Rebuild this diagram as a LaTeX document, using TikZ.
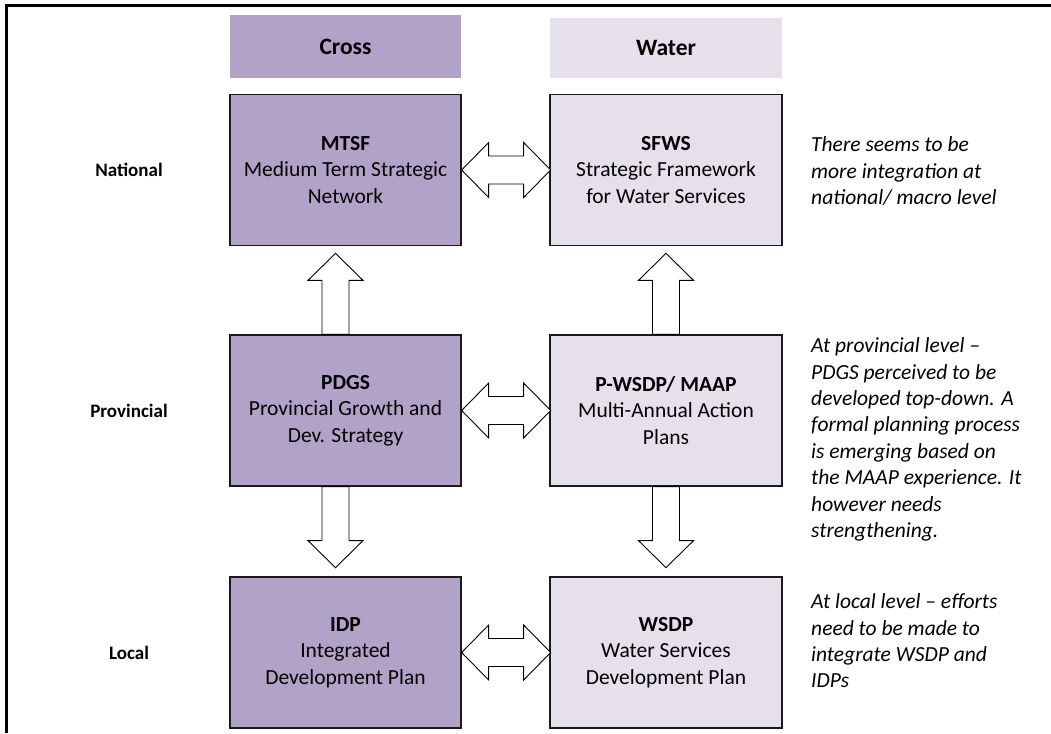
\documentclass[tikz,border=0pt]{standalone}
\usepackage{fontspec}
\setmainfont{Carlito}
\usetikzlibrary{calc}
\definecolor{plancross}{HTML}{B3A2C7}
\definecolor{planwater}{HTML}{E5E0EC}
\definecolor{planink}{HTML}{1A1A1A}
\tikzset{
  levelbox/.style={draw=planink,line width=1.3pt,minimum width=231pt,minimum height=151pt,
    inner sep=0pt,align=center,font=\fontsize{21.5}{26.4}\selectfont},
  crossbox/.style={levelbox,fill=plancross},
  waterbox/.style={levelbox,fill=planwater,minimum width=232pt},
  headbox/.style={minimum width=231pt,inner sep=0pt,font=\fontsize{23.5}{28}\selectfont\bfseries},
  levellabel/.style={font=\fontsize{19}{22}\selectfont\bfseries},
  levelnote/.style={anchor=west,align=left,inner sep=0pt,font=\fontsize{21.5}{26.4}\selectfont\itshape},
  blockarrow/.style={draw=black,fill=white,line width=0.9pt,line join=miter},
}

\begin{document}
\begin{tikzpicture}[x=1pt,y=-1pt]
  \useasboundingbox (0,0) rectangle (1051,733);
  \draw[line width=2.5pt] (6.5,733) -- (6.5,5.5) -- (1051,5.5);
  % column heads
  \node[headbox,fill=plancross,minimum height=63pt] (crosshead) at (345.5,46.5) {Cross};
  \node[headbox,fill=planwater,minimum height=60pt,minimum width=232pt] (waterhead) at (666,48) {Water};
  % levels
  \node[levellabel] (national) at (129,170) {National};
  \node[levellabel] (provincial) at (129,410.5) {Provincial};
  \node[levellabel] (local) at (129,652.5) {Local};
  \node[crossbox] (mtsf) at (345.5,170) {\textbf{MTSF}\\Medium Term Strategic\\Network};
  \node[waterbox] (sfws) at (666,170) {\textbf{SFWS}\\Strategic Framework\\for Water Services};
  \node[crossbox] (pdgs) at (345.5,410.5) {\textbf{PDGS}\\Provincial Growth and\\Dev. Strategy};
  \node[waterbox] (maap) at (666,410.5) {\textbf{P-WSDP/ MAAP}\\Multi-Annual Action\\Plans};
  \node[crossbox] (idp) at (345.5,652.5) {\textbf{IDP}\\Integrated\\Development Plan};
  \node[waterbox] (wsdp) at (666,652.5) {\textbf{WSDP}\\Water Services\\Development Plan};
  % notes
  \node[levelnote] (natnote) at (811,171) {There seems to be\\more integration at\\national/ macro level};
  \node[levelnote] (provnote) at (811,439.5) {At provincial level –\\PDGS perceived to be\\developed top-down. A\\formal planning process\\is emerging based on\\the MAAP experience. It\\however needs\\strengthening.};
  \node[levelnote] (locnote) at (811,641) {At local level – efforts\\need to be made to\\integrate WSDP and\\IDPs};
  % arrows
  \foreach \a in {mtsf,pdgs,idp}
    {\draw[blockarrow] (\a.east) -- ++(27,-27.5) -- ++(0,13.5) -- ++(35,0) -- ++(0,-13.5)
      -- ++(27,27.5) -- ++(-27,27.5) -- ++(0,-13.5) -- ++(-35,0) -- ++(0,13.5) -- cycle;}
  \foreach \a/\dx in {pdgs/-10,maap/0}
    {\draw[blockarrow] ($(\a.north)+(\dx-13.5,0)$) -- ++(0,-54) -- ++(-14,0) -- ++(27.5,-27)
      -- ++(27.5,27) -- ++(-14,0) -- ++(0,54) -- cycle;}
  \foreach \a/\dx in {pdgs/-10,maap/0}
    {\draw[blockarrow] ($(\a.south)+(\dx-13.5,0)$) -- ++(0,54) -- ++(-14,0) -- ++(27.5,27)
      -- ++(27.5,-27) -- ++(-14,0) -- ++(0,-54) -- cycle;}
\end{tikzpicture}
\end{document}
